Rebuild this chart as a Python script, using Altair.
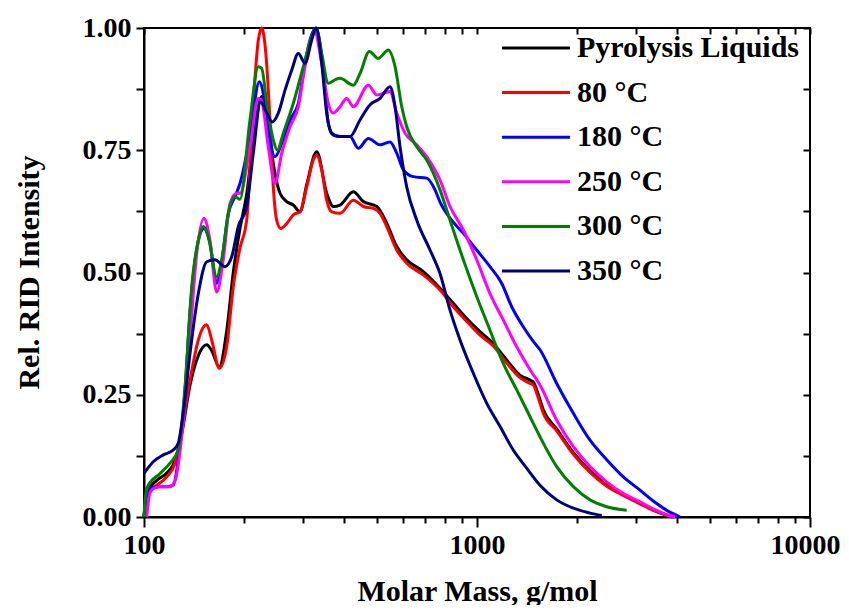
import altair as alt
import pandas as pd

# ---------------- data ----------------
names = ["Pyrolysis Liquids", "80 °C", "180 °C", "250 °C", "300 °C", "350 °C"]
colors = ["#000000", "#ff0000", "#0000ff", "#ff00ff", "#008000", "#000080"]

black_m = [100, 101.9, 109.2, 117.0, 123.9, 129.8, 137.5, 145.6, 154.3, 159.7,
           168.3, 177.1, 185.4, 194.2, 203.4, 212.9, 225.7, 233.6, 244.5, 256.1,
           268.3, 280.8, 294.2, 308.1, 330.1, 353.7, 370.2, 387.8, 425.2, 455.8,
           500, 535.7, 574.1, 615.1, 689.9, 774.4, 849, 931.3, 1021, 1119,
           1228, 1346, 1443, 1476, 1520, 1580, 1735, 1947, 2185, 2452,
           2750, 3087, 3423, 3878]
black_v = [0.0, 0.05, 0.075, 0.09, 0.115, 0.17, 0.27, 0.33, 0.352, 0.34,
           0.307, 0.38, 0.5, 0.59, 0.66, 0.77, 0.86, 0.83, 0.723, 0.662,
           0.645, 0.638, 0.624, 0.68, 0.747, 0.662, 0.635, 0.638, 0.665, 0.645,
           0.635, 0.601, 0.553, 0.526, 0.502, 0.468, 0.437, 0.406, 0.379, 0.355,
           0.321, 0.29, 0.28, 0.276, 0.255, 0.22, 0.18, 0.132, 0.095, 0.067,
           0.046, 0.029, 0.013, 0.0]

red_m = [100, 101.9, 109.2, 117.0, 123.9, 129.8, 137.5, 145.6, 151.4, 154.3,
         159.7, 168.3, 177.1, 185.4, 194.2, 203.4, 212.9, 220.4, 225.7, 232.2,
         239.0, 244.5, 250.3, 257.4, 268.3, 280.8, 294.2, 308.1, 322.4, 330.1,
         341.7, 353.7, 366.1, 387.8, 425.2, 455.8, 488.4, 511.5, 535.7, 574.1,
         615.1, 689.9, 774.4, 849, 931.3, 1021, 1119, 1228, 1346, 1443,
         1476, 1520, 1580, 1735, 1947, 2185, 2452, 2750, 3087, 3423,
         3878]
red_v = [0.0, 0.048, 0.065, 0.082, 0.11, 0.178, 0.28, 0.362, 0.39, 0.393,
         0.362, 0.304, 0.348, 0.471, 0.55, 0.607, 0.846, 0.975, 1.0, 0.948,
         0.812, 0.675, 0.607, 0.59, 0.6, 0.618, 0.624, 0.675, 0.73, 0.74,
         0.71, 0.648, 0.624, 0.621, 0.648, 0.635, 0.631, 0.621, 0.594, 0.546,
         0.519, 0.495, 0.464, 0.43, 0.4, 0.372, 0.35, 0.315, 0.285, 0.273,
         0.27, 0.248, 0.213, 0.176, 0.128, 0.091, 0.063, 0.044, 0.027, 0.012,
         0.0]

blue_m = [100, 101.9, 104.2, 111.7, 117.0, 122.4, 126.7, 132.8, 137.5, 145.6,
          151.4, 157.8, 165.3, 171.1, 179.1, 187.6, 194.2, 208.1, 222.0, 230.9,
          239.0, 247.4, 259.2, 274.5, 290.7, 304.5, 328.5, 345.5, 357.6, 370.2,
          387.8, 415.6, 440.2, 471.8, 511.5, 548.0, 574.1, 600.9, 644.0, 706.3,
          748.1, 774.4, 829.8, 910.0, 997.9, 1094, 1186, 1271, 1377, 1476,
          1546, 1735, 1947, 2185, 2452, 2750, 3087, 3423, 3747, 4071]
blue_v = [0.0, 0.045, 0.06, 0.062, 0.062, 0.065, 0.117, 0.26, 0.42, 0.565,
          0.59, 0.56, 0.478, 0.52, 0.62, 0.655, 0.682, 0.778, 0.89, 0.846,
          0.771, 0.737, 0.764, 0.812, 0.846, 0.93, 1.0, 0.914, 0.805, 0.781,
          0.778, 0.778, 0.754, 0.774, 0.761, 0.767, 0.744, 0.71, 0.696, 0.693,
          0.669, 0.644, 0.611, 0.58, 0.546, 0.512, 0.478, 0.43, 0.389, 0.359,
          0.342, 0.273, 0.212, 0.157, 0.117, 0.082, 0.055, 0.03, 0.012, 0.0]

magenta_m = [101.9, 104.2, 107.2, 111.7, 119.7, 124.0, 129.8, 137.5, 144.0, 151.4,
             157.8, 165.3, 173.0, 181.3, 189.8, 194.2, 208.1, 220.4, 225.7, 236.2,
             247.4, 259.2, 274.5, 290.7, 304.5, 326.0, 341.7, 357.6, 370.2, 387.8,
             406.2, 425.2, 471.8, 500.0, 548.0, 574.1, 608.0, 659.3, 706.3, 756.9,
             774.4, 829.8, 910.0, 997.9, 1094, 1199, 1316, 1443, 1546, 1735,
             1947, 2185, 2452, 2750, 3087, 3423, 3747, 3933]
magenta_v = [0.0, 0.05, 0.059, 0.062, 0.062, 0.075, 0.164, 0.369, 0.539, 0.611,
             0.566, 0.46, 0.526, 0.641, 0.662, 0.662, 0.757, 0.856, 0.85, 0.757,
             0.682, 0.744, 0.798, 0.839, 0.921, 0.99, 0.928, 0.846, 0.826, 0.839,
             0.856, 0.839, 0.883, 0.863, 0.87, 0.826, 0.785, 0.761, 0.737, 0.703,
             0.689, 0.635, 0.587, 0.526, 0.457, 0.403, 0.348, 0.301, 0.27, 0.198,
             0.144, 0.103, 0.072, 0.048, 0.031, 0.015, 0.004, 0.0]

green_m = [100, 101.0, 102.5, 111.7, 119.7, 126.7, 132.8, 139.1, 145.6, 150.7,
           156.0, 165.3, 171.1, 179.1, 187.6, 194.2, 208.1, 220.4, 225.7, 233.6,
           244.5, 251.4, 262.1, 280.8, 300.9, 318.8, 328.5, 341.7, 357.6, 374.6,
           387.8, 425.2, 445.4, 475.1, 505.5, 541.6, 567.4, 594.3, 615.1, 659.3,
           706.3, 739.4, 774.4, 829.8, 910.0, 997.9, 1094, 1199, 1316, 1443,
           1546, 1735, 1947, 2185, 2452, 2815]
green_v = [0.0, 0.04, 0.062, 0.089, 0.11, 0.137, 0.266, 0.471, 0.566, 0.594,
           0.573, 0.491, 0.526, 0.621, 0.655, 0.65, 0.812, 0.921, 0.917, 0.846,
           0.771, 0.75, 0.785, 0.846, 0.921, 0.982, 1.0, 0.948, 0.887, 0.894,
           0.897, 0.883, 0.907, 0.952, 0.938, 0.955, 0.921, 0.839, 0.798, 0.757,
           0.73, 0.703, 0.669, 0.607, 0.526, 0.451, 0.382, 0.314, 0.26, 0.205,
           0.164, 0.103, 0.062, 0.035, 0.021, 0.014]

navy_m = [100, 106.6, 114.3, 122.4, 126.7, 131.2, 137.5, 145.6, 154.3, 163.4,
          175.1, 183.4, 191.9, 203.4, 212.9, 224.1, 233.6, 242.8, 253.1, 265.2,
          277.8, 290.7, 304.5, 318.8, 328.5, 341.7, 353.7, 366.1, 387.8, 415.6,
          445.4, 477.4, 511.5, 548.0, 567.4, 587.3, 615.1, 659.3, 722.7, 774.4,
          829.8, 889.3, 974.8, 1069, 1173, 1285, 1410, 1546, 1735, 1947,
          2185, 2369]
navy_v = [0.089, 0.113, 0.127, 0.137, 0.151, 0.212, 0.335, 0.457, 0.522, 0.526,
          0.512, 0.532, 0.594, 0.635, 0.744, 0.849, 0.826, 0.808, 0.826, 0.873,
          0.914, 0.948, 0.928, 0.975, 1.0, 0.928, 0.826, 0.785, 0.778, 0.778,
          0.812, 0.843, 0.856, 0.88, 0.839, 0.757, 0.675, 0.607, 0.546, 0.498,
          0.423, 0.362, 0.294, 0.233, 0.185, 0.137, 0.1, 0.065, 0.035, 0.018,
          0.008, 0.003]

x_ticks = [100, 200, 300, 400, 500, 600, 700, 800, 900,
           1000, 2000, 3000, 4000, 5000, 6000, 7000, 8000, 9000, 10000]
y_ticks = [0, 0.125, 0.25, 0.375, 0.5, 0.625, 0.75, 0.875, 1.0]

# ---------------- build table ----------------
series_m = [black_m, red_m, blue_m, magenta_m, green_m, navy_m]
series_v = [black_v, red_v, blue_v, magenta_v, green_v, navy_v]
rows = []
for i, (name, ms, vs) in enumerate(zip(names, series_m, series_v)):
    assert len(ms) == len(vs), name
    for m, v in zip(ms, vs):
        rows.append({"series": name, "mass": m, "intensity": v, "k": i})
df = pd.DataFrame(rows)
leg_df = pd.DataFrame({"series": names})

FONT = "Liberation Serif"
major_test = "datum.value == 100 || datum.value == 1000 || datum.value == 10000"

xscale = alt.Scale(type="log", domain=[100, 10000], nice=False)
yscale = alt.Scale(domain=[0, 1], nice=False, zero=False)
color = alt.Color("series:N", scale=alt.Scale(domain=names, range=colors), legend=None)

lines = alt.Chart(df).mark_line(strokeWidth=3, interpolate="monotone").encode(
    x=alt.X("mass:Q", scale=xscale,
            axis=alt.Axis(orient="bottom", values=x_ticks,
                          labelExpr=f"({major_test}) ? format(datum.value, 'd') : ''",
                          tickSize={"condition": {"test": major_test, "value": 10}, "value": 6},
                          labelOffset={"condition": {"test": "datum.value == 10000", "value": -5}, "value": 0},
                          labelPadding=4, labelOverlap=False, labelFlush=False,
                          title="Molar Mass, g/mol", titleY=83, titleBaseline="alphabetic")),
    y=alt.Y("intensity:Q", scale=yscale,
            axis=alt.Axis(orient="left", values=y_ticks,
                          labelExpr="datum.value % 0.25 == 0 ? format(datum.value, '.2f') : ''",
                          tickSize=8, labelPadding=5, labelOverlap=False, labelFlush=False,
                          title="Rel. RID Intensity", titleX=-106, titleY=244,
                          titleAngle=-90, titleAlign="center", titleBaseline="alphabetic")),
    color=color,
    detail="k:O",
)

frame = alt.Chart(df).mark_line(opacity=0).encode(
    x=alt.X("mass:Q", scale=xscale,
            axis=alt.Axis(orient="top", values=x_ticks, labels=False, title=None,
                          domain=False, offset=-6,
                          tickSize=6)),
    y=alt.Y("intensity:Q", scale=yscale,
            axis=alt.Axis(orient="right", values=y_ticks, labels=False, title=None,
                          domain=False, offset=-7, tickSize=7)),
    detail="series:N",
)

legy = alt.Y("series:N", sort=names,
             scale=alt.Scale(type="point", domain=names, range=[20, 243], padding=0),
             axis=None)

leg_lines = alt.Chart(leg_df).mark_rule(strokeWidth=3).encode(
    x=alt.value(358), x2=alt.value(426), y=legy, color=color)

leg_text = alt.Chart(leg_df).mark_text(
    align="left", baseline="middle", font=FONT, fontSize=30,
    fontWeight="bold", color="black").encode(
    x=alt.value(433), y=legy, text="series:N")

chart = alt.layer(lines, frame, leg_lines, leg_text).resolve_scale(
    y="independent"
).resolve_axis(
    x="independent", y="independent"
).properties(
    width=666, height=489,
    padding={"left": 136, "top": 20, "right": 31, "bottom": 88},
    autosize=alt.AutoSizeParams(type="none"),
    background="white",
).configure_view(
    stroke="black", strokeWidth=2
).configure_axis(
    grid=False, domainColor="black", domainWidth=2,
    tickColor="black", tickWidth=2,
    labelFont=FONT, labelFontSize=28, labelFontWeight="bold", labelColor="black",
    titleFont=FONT, titleFontSize=30, titleFontWeight="bold", titleColor="black",
)

chart.save("out.html", embed_options={"renderer": "svg", "actions": False})
